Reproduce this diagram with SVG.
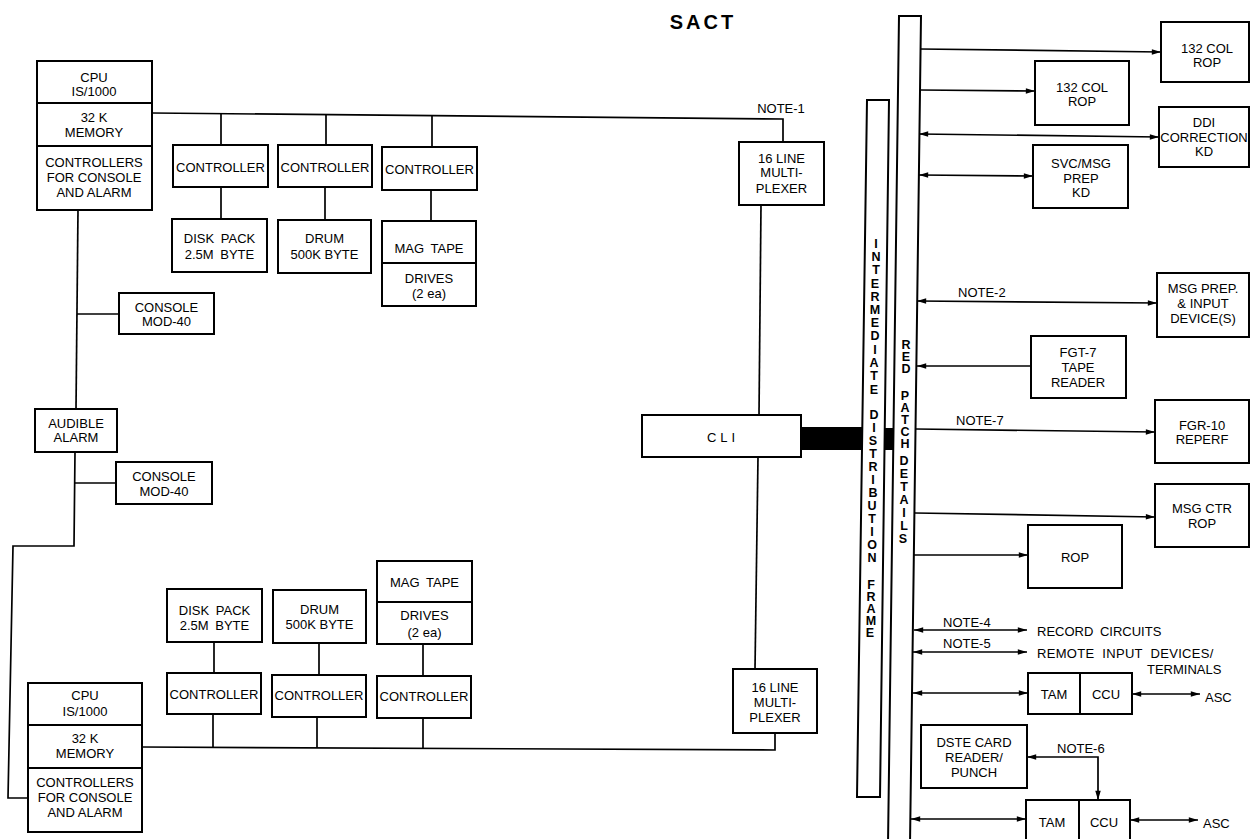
<svg xmlns="http://www.w3.org/2000/svg" width="1251" height="839" viewBox="0 0 1251 839">
<defs>
<style>
.box{fill:#fff;stroke:#000;stroke-width:2}
.ln{fill:none;stroke:#000;stroke-width:1.7}
.t{font-family:'Liberation Sans',Arial,sans-serif;font-size:13px;text-anchor:middle;fill:#000}
.l{text-anchor:start}
.v{font-family:'Liberation Sans',Arial,sans-serif;font-size:12.5px;font-weight:bold;text-anchor:middle;fill:#000}
.arr{marker-end:url(#ah)}
.dbl{marker-start:url(#ah);marker-end:url(#ah)}
</style>
<marker id="ah" viewBox="0 0 10 6" refX="10" refY="3" markerWidth="10" markerHeight="5.5" markerUnits="userSpaceOnUse" orient="auto-start-reverse"><path d="M0,0 L10,3 L0,6 z" fill="#000"/></marker>
</defs>
<rect width="1251" height="839" fill="#fff"/>
<text class="t" x="703" y="29" style="font-size:20px;font-weight:bold;letter-spacing:3px">SACT</text>

<g id="connectors">
<polyline class="ln" points="152,113 783,119 783,142"/>
<line class="ln" x1="221" y1="114" x2="221" y2="145"/>
<line class="ln" x1="326" y1="115" x2="326" y2="145"/>
<line class="ln" x1="432" y1="116" x2="432" y2="147"/>
<line class="ln" x1="221" y1="187" x2="221" y2="219"/>
<line class="ln" x1="325" y1="187" x2="325" y2="220"/>
<line class="ln" x1="431" y1="190" x2="431" y2="221"/>
<line class="ln" x1="78" y1="210" x2="76" y2="409"/>
<line class="ln" x1="77" y1="314" x2="119" y2="314"/>
<polyline class="ln" points="75,452 74,546 13,546 8,798 28,798"/>
<line class="ln" x1="75" y1="483" x2="116" y2="483"/>
<polyline class="ln" points="142,747 775,750 775,733"/>
<line class="ln" x1="213" y1="714" x2="213" y2="747"/>
<line class="ln" x1="317" y1="717" x2="317" y2="748"/>
<line class="ln" x1="423" y1="718" x2="423" y2="748"/>
<line class="ln" x1="214" y1="642" x2="214" y2="673"/>
<line class="ln" x1="319" y1="643" x2="319" y2="675"/>
<line class="ln" x1="423" y1="644" x2="423" y2="676"/>
<line class="ln" x1="761" y1="205" x2="759" y2="415"/>
<line class="ln" x1="758" y1="457" x2="755" y2="669"/>
<rect x="801" y="427" width="62" height="23" fill="#000"/>
<rect x="883" y="428" width="13" height="22" fill="#000"/>
<line class="ln arr" x1="920" y1="49" x2="1161" y2="52"/>
<line class="ln arr" x1="920" y1="90" x2="1035" y2="91"/>
<line class="ln dbl" x1="919" y1="134" x2="1159" y2="137"/>
<line class="ln dbl" x1="919" y1="175" x2="1033" y2="176"/>
<line class="ln dbl" x1="917" y1="301" x2="1157" y2="303"/>
<line class="ln arr" x1="1031" y1="366" x2="917" y2="366"/>
<line class="ln arr" x1="916" y1="429" x2="1155" y2="432"/>
<line class="ln arr" x1="915" y1="513" x2="1155" y2="517"/>
<line class="ln arr" x1="914" y1="555" x2="1028" y2="555"/>
<line class="ln dbl" x1="914" y1="630" x2="1027" y2="630"/>
<line class="ln dbl" x1="913" y1="652" x2="1027" y2="652"/>
<line class="ln dbl" x1="913" y1="693" x2="1028" y2="693"/>
<line class="ln dbl" x1="1132" y1="694" x2="1200" y2="694"/>
<polyline class="ln dbl" points="1027,757 1098,757 1098,800"/>
<line class="ln dbl" x1="911" y1="819" x2="1026" y2="819"/>
<line class="ln dbl" x1="1130" y1="820" x2="1198" y2="820"/>
<text class="t" x="781" y="113">NOTE-1</text>
<text class="t l" x="958" y="297">NOTE-2</text>
<text class="t l" x="956" y="425">NOTE-7</text>
<text class="t l" x="943" y="627">NOTE-4</text>
<text class="t l" x="943" y="648">NOTE-5</text>
<text class="t l" x="1057" y="753">NOTE-6</text>
<text class="t l" x="1037" y="636" style="word-spacing:3px">RECORD CIRCUITS</text>
<text class="t l" x="1037" y="658" style="word-spacing:4px;letter-spacing:0.3px">REMOTE INPUT DEVICES/</text>
<text class="t l" x="1147" y="674">TERMINALS</text>
<text class="t l" x="1205" y="702">ASC</text>
<text class="t l" x="1203" y="828">ASC</text>
</g>

<g id="cpu1">
<rect class="box" x="37" y="61" width="115" height="149"/>
<line class="ln" x1="37" y1="103" x2="152" y2="103" style="stroke-width:2"/>
<line class="ln" x1="37" y1="146" x2="152" y2="146" style="stroke-width:2"/>
<text class="t" x="94" y="82">CPU</text>
<text class="t" x="94" y="96">IS/1000</text>
<text class="t" x="94" y="122">32 K</text>
<text class="t" x="94" y="137">MEMORY</text>
<text class="t" x="94" y="167">CONTROLLERS</text>
<text class="t" x="94" y="182">FOR CONSOLE</text>
<text class="t" x="94" y="197">AND ALARM</text>
</g>
<g id="ctl1a"><rect class="box" x="173" y="145" width="95" height="42"/><text class="t" x="220.5" y="172">CONTROLLER</text></g>
<g id="ctl1b"><rect class="box" x="278" y="145" width="94" height="42"/><text class="t" x="325" y="172">CONTROLLER</text></g>
<g id="ctl1c"><rect class="box" x="382" y="147" width="95" height="43"/><text class="t" x="429.5" y="174">CONTROLLER</text></g>
<g id="disk1"><rect class="box" x="172" y="219" width="95" height="53"/><text class="t" x="219.5" y="243" style="word-spacing:3px">DISK PACK</text><text class="t" x="219.5" y="259" style="word-spacing:3px">2.5M BYTE</text></g>
<g id="drum1"><rect class="box" x="278" y="220" width="93" height="53"/><text class="t" x="324.5" y="243">DRUM</text><text class="t" x="324.5" y="259">500K BYTE</text></g>
<g id="mag1"><rect class="box" x="382" y="221" width="94" height="85"/><line class="ln" x1="382" y1="263" x2="476" y2="263" style="stroke-width:2"/><text class="t" x="429" y="253" style="word-spacing:3px">MAG TAPE</text><text class="t" x="429" y="283">DRIVES</text><text class="t" x="429" y="298">(2 ea)</text></g>
<g id="console1"><rect class="box" x="119" y="293" width="95" height="41"/><text class="t" x="166.5" y="312">CONSOLE</text><text class="t" x="166.5" y="326">MOD-40</text></g>
<g id="alarm"><rect class="box" x="35" y="409" width="82" height="43"/><text class="t" x="76" y="428">AUDIBLE</text><text class="t" x="76" y="442">ALARM</text></g>
<g id="console2"><rect class="box" x="116" y="462" width="96" height="42"/><text class="t" x="164" y="481">CONSOLE</text><text class="t" x="164" y="496">MOD-40</text></g>

<g id="cpu2">
<rect class="box" x="28" y="683" width="114" height="149"/>
<line class="ln" x1="28" y1="725" x2="142" y2="725" style="stroke-width:2"/>
<line class="ln" x1="28" y1="768" x2="142" y2="768" style="stroke-width:2"/>
<text class="t" x="85" y="700">CPU</text>
<text class="t" x="85" y="716">IS/1000</text>
<text class="t" x="85" y="743">32 K</text>
<text class="t" x="85" y="758">MEMORY</text>
<text class="t" x="85" y="787">CONTROLLERS</text>
<text class="t" x="85" y="802">FOR CONSOLE</text>
<text class="t" x="85" y="817">AND ALARM</text>
</g>
<g id="ctl2a"><rect class="box" x="167" y="673" width="94" height="41"/><text class="t" x="214" y="699">CONTROLLER</text></g>
<g id="ctl2b"><rect class="box" x="272" y="675" width="94" height="42"/><text class="t" x="319" y="700">CONTROLLER</text></g>
<g id="ctl2c"><rect class="box" x="377" y="676" width="94" height="42"/><text class="t" x="424" y="701">CONTROLLER</text></g>
<g id="disk2"><rect class="box" x="167" y="589" width="95" height="53"/><text class="t" x="214.5" y="615" style="word-spacing:3px">DISK PACK</text><text class="t" x="214.5" y="630" style="word-spacing:3px">2.5M BYTE</text></g>
<g id="drum2"><rect class="box" x="273" y="590" width="93" height="53"/><text class="t" x="319.5" y="614">DRUM</text><text class="t" x="319.5" y="629">500K BYTE</text></g>
<g id="mag2"><rect class="box" x="377" y="561" width="95" height="83"/><line class="ln" x1="377" y1="602" x2="472" y2="602" style="stroke-width:2"/><text class="t" x="424.5" y="587" style="word-spacing:3px">MAG TAPE</text><text class="t" x="424.5" y="620">DRIVES</text><text class="t" x="424.5" y="637">(2 ea)</text></g>

<g id="mux1"><rect class="box" x="739" y="142" width="85" height="63"/><text class="t" x="781.5" y="163">16 LINE</text><text class="t" x="781.5" y="177">MULTI-</text><text class="t" x="781.5" y="193">PLEXER</text></g>
<g id="cli"><rect class="box" x="642" y="415" width="159" height="42"/><text class="t" x="723" y="442" style="letter-spacing:4px">CLI</text></g>
<g id="mux2"><rect class="box" x="733" y="669" width="84" height="64"/><text class="t" x="775" y="692">16 LINE</text><text class="t" x="775" y="707">MULTI-</text><text class="t" x="775" y="722">PLEXER</text></g>

<g id="idf">
<polygon class="box" points="867,100 889,100 880,797 857,797"/>
<text class="v" x="876" y="248">I</text><text class="v" x="876" y="261">N</text><text class="v" x="876" y="274">T</text><text class="v" x="875" y="288">E</text><text class="v" x="875" y="301">R</text><text class="v" x="875" y="314">M</text><text class="v" x="875" y="327">E</text><text class="v" x="875" y="340">D</text><text class="v" x="875" y="354">I</text><text class="v" x="874" y="367">A</text><text class="v" x="874" y="380">T</text><text class="v" x="874" y="394">E</text>
<text class="v" x="874" y="419">D</text><text class="v" x="874" y="432">I</text><text class="v" x="873" y="445">S</text><text class="v" x="873" y="458">T</text><text class="v" x="873" y="471">R</text><text class="v" x="873" y="484">I</text><text class="v" x="873" y="497">B</text><text class="v" x="872" y="510">U</text><text class="v" x="872" y="523">T</text><text class="v" x="872" y="536">I</text><text class="v" x="872" y="549">O</text><text class="v" x="872" y="562">N</text>
<text class="v" x="871" y="589">F</text><text class="v" x="871" y="601">R</text><text class="v" x="871" y="613">A</text><text class="v" x="871" y="625">M</text><text class="v" x="870" y="637">E</text>
</g>
<g id="redpatch">
<polygon class="box" points="899,16 921,16 910,845 888,845"/>
<text class="v" x="906" y="349">R</text><text class="v" x="906" y="361">E</text><text class="v" x="906" y="373">D</text>
<text class="v" x="905" y="400">P</text><text class="v" x="905" y="412">A</text><text class="v" x="905" y="424">T</text><text class="v" x="905" y="436">C</text><text class="v" x="905" y="448">H</text>
<text class="v" x="904" y="465">D</text><text class="v" x="904" y="478">E</text><text class="v" x="904" y="491">T</text><text class="v" x="904" y="504">A</text><text class="v" x="904" y="517">I</text><text class="v" x="904" y="530">L</text><text class="v" x="903" y="543">S</text>
</g>

<g id="rop132a"><rect class="box" x="1161" y="22" width="88" height="60"/><text class="t" x="1207" y="53">132 COL</text><text class="t" x="1207" y="67">ROP</text></g>
<g id="rop132b"><rect class="box" x="1035" y="61" width="94" height="64"/><text class="t" x="1082" y="92">132 COL</text><text class="t" x="1082" y="106">ROP</text></g>
<g id="ddi"><rect class="box" x="1159" y="107" width="90" height="60"/><text class="t" x="1204" y="127">DDI</text><text class="t" x="1204" y="142">CORRECTION</text><text class="t" x="1204" y="156">KD</text></g>
<g id="svc"><rect class="box" x="1033" y="145" width="95" height="63"/><text class="t" x="1081" y="168">SVC/MSG</text><text class="t" x="1081" y="183">PREP</text><text class="t" x="1081" y="197">KD</text></g>
<g id="msgprep"><rect class="box" x="1157" y="273" width="92" height="64"/><text class="t" x="1203" y="293">MSG PREP.</text><text class="t" x="1203" y="308">&amp; INPUT</text><text class="t" x="1203" y="323">DEVICE(S)</text></g>
<g id="fgt7"><rect class="box" x="1031" y="336" width="95" height="62"/><text class="t" x="1078" y="357">FGT-7</text><text class="t" x="1078" y="372">TAPE</text><text class="t" x="1078" y="387">READER</text></g>
<g id="fgr10"><rect class="box" x="1155" y="400" width="94" height="63"/><text class="t" x="1202" y="430">FGR-10</text><text class="t" x="1202" y="444">REPERF</text></g>
<g id="msgctr"><rect class="box" x="1155" y="484" width="94" height="63"/><text class="t" x="1202" y="513">MSG CTR</text><text class="t" x="1202" y="528">ROP</text></g>
<g id="rop"><rect class="box" x="1028" y="525" width="94" height="63"/><text class="t" x="1075" y="562">ROP</text></g>
<g id="tamccu1"><rect class="box" x="1028" y="673" width="104" height="41"/><line class="ln" x1="1080" y1="673" x2="1080" y2="714" style="stroke-width:2"/><text class="t" x="1054" y="699">TAM</text><text class="t" x="1106" y="699">CCU</text></g>
<g id="dste"><rect class="box" x="921" y="725" width="106" height="63"/><text class="t" x="974" y="747">DSTE CARD</text><text class="t" x="974" y="762">READER/</text><text class="t" x="974" y="777">PUNCH</text></g>
<g id="tamccu2"><rect class="box" x="1026" y="800" width="104" height="45"/><line class="ln" x1="1079" y1="800" x2="1079" y2="845" style="stroke-width:2"/><text class="t" x="1052" y="827">TAM</text><text class="t" x="1104" y="827">CCU</text></g>
</svg>
